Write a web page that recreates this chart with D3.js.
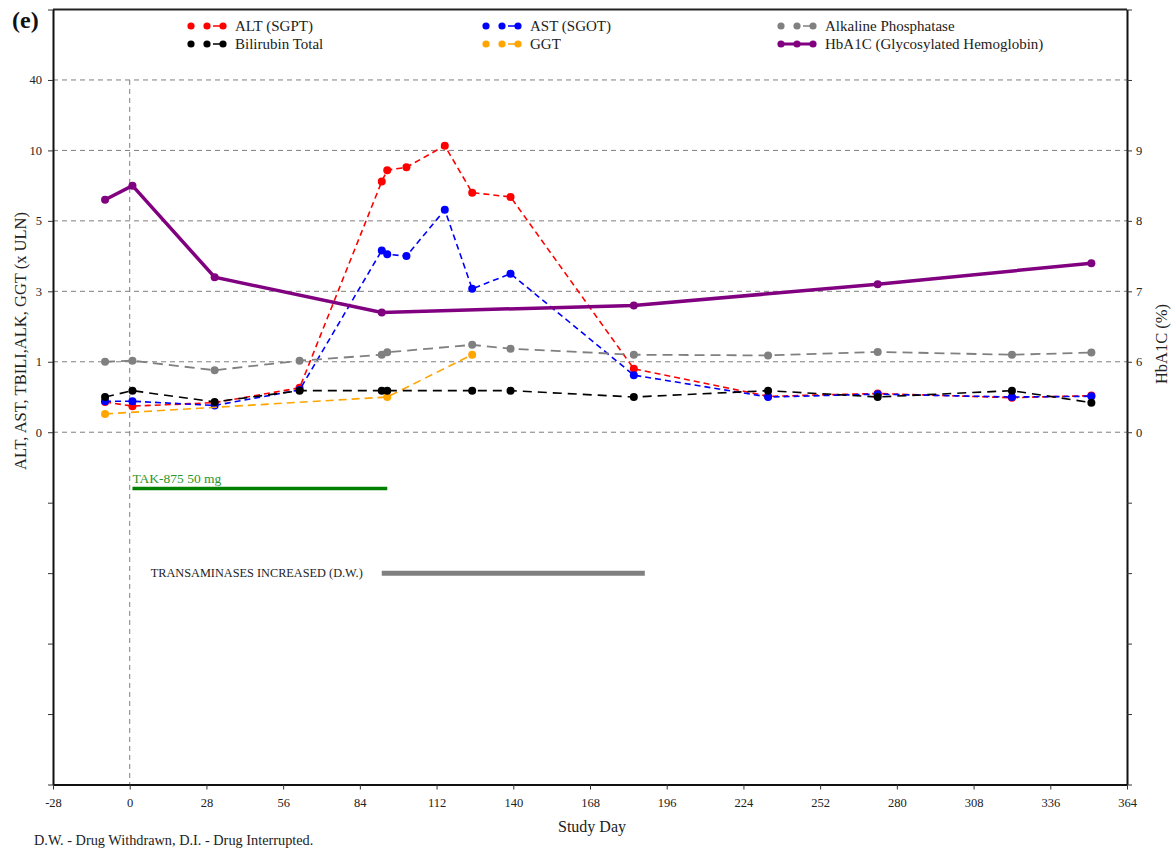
<!DOCTYPE html>
<html><head><meta charset="utf-8">
<script src="https://cdn.jsdelivr.net/npm/d3@7"></script>
<style>
body{margin:0;background:#fff;}
</style></head>
<body><svg id="c" width="1174" height="851" style="font-family:'Liberation Serif','Times New Roman',serif"></svg>
<script>
// ---- data ----
const altDays = [-9, 1, 31, 62, 92, 94, 101, 115, 125, 139, 184, 233, 273, 322, 351];
const altVals = [0.43, 0.37, 0.42, 0.63, 7.8, 8.6, 8.8, 12, 7.0, 6.7, 0.90, 0.51, 0.55, 0.49, 0.52];
const astDays = [-9, 1, 31, 62, 92, 94, 101, 115, 125, 139, 184, 233, 273, 322, 351];
const astVals = [0.44, 0.44, 0.38, 0.60, 4.16, 4.05, 4.0, 5.78, 3.07, 3.5, 0.81, 0.50, 0.54, 0.50, 0.51];
const alkDays = [-9, 1, 31, 62, 92, 94, 125, 139, 184, 233, 273, 322, 351];
const alkVals = [1.0, 1.03, 0.88, 1.03, 1.2, 1.27, 1.48, 1.37, 1.2, 1.18, 1.28, 1.2, 1.26];
const biliDays = [-9, 1, 31, 62, 92, 94, 125, 139, 184, 233, 273, 322, 351];
const biliVals = [0.50, 0.59, 0.43, 0.59, 0.59, 0.59, 0.59, 0.59, 0.50, 0.59, 0.50, 0.59, 0.42];
const ggtDays = [-9, 94, 125];
const ggtVals = [0.26, 0.50, 1.2];
const hbDays = [-9, 1, 31, 92, 184, 273, 351];
const hbVals = [8.3, 8.5, 7.2, 6.7, 6.8, 7.1, 7.4];

const xTicks = [-28, 0, 28, 56, 84, 112, 140, 168, 196, 224, 252, 280, 308, 336, 364];
const leftTickVals = [0, 1, 3, 5, 10, 40];
const rightTickVals = [0, 6, 7, 8, 9];
const rightDomainTop = 10;

const treatLabel = "TAK-875 50 mg", treatStart = 1, treatEnd = 94;
const eventLabel = "TRANSAMINASES INCREASED (D.W.)", eventStart = 92, eventEnd = 188;

const seriesNames = ["ALT (SGPT)", "AST (SGOT)", "Alkaline Phosphatase", "Bilirubin Total", "GGT", "HbA1C (Glycosylated Hemoglobin)"];

// ---- layout ----
const FONT = "'Liberation Serif','Times New Roman',serif";
const L = 53, R = 1127, T = 9.5, B = 784.5;
const svg = d3.select("#c");
const x = d3.scaleLinear().domain([-28, 364]).range([L, R]);
const slot = d3.scaleLinear().domain([0, 11]).range([B, T]);
const slotIdx = [5, 6, 7, 8, 9, 10];
const yL = d3.scaleLinear().domain(leftTickVals).range(slotIdx.map(slot));
const yR = d3.scaleLinear().domain(rightTickVals.concat([rightDomainTop])).range(slotIdx.map(slot));

function txt(sel) { return sel.style("font-family", FONT); }

// grid
const gridC = "#7f7f7f";
svg.append("g").selectAll("line").data(slotIdx).join("line")
  .attr("x1", L).attr("x2", R).attr("y1", d => slot(d)).attr("y2", d => slot(d))
  .attr("stroke", gridC).attr("stroke-width", 1).attr("stroke-dasharray", "5,4");
svg.append("line").attr("x1", x(0)).attr("x2", x(0)).attr("y1", slot(10)).attr("y2", B)
  .attr("stroke", gridC).attr("stroke-width", 1).attr("stroke-dasharray", "5,4");

// frame top
svg.append("line").attr("x1", L).attr("x2", R).attr("y1", T).attr("y2", T).attr("stroke", "#222").attr("stroke-width", 2);

// axes
const leftLab = {}; slotIdx.forEach((s, i) => leftLab[s] = String(leftTickVals[i]));
const rightLab = {}; slotIdx.slice(0, 5).forEach((s, i) => rightLab[s] = String(rightTickVals[i]));
function styleAxis(g) {
  g.attr("font-family", null);
  g.select(".domain").attr("stroke", "#111").attr("stroke-width", 2);
  g.selectAll(".tick line").attr("stroke", "#333");
  g.selectAll(".tick text").style("font-family", FONT).attr("font-size", 12.5).attr("fill", "#222");
}
svg.append("g").attr("transform", `translate(${L},0)`)
  .call(d3.axisLeft(slot).tickValues(d3.range(0, 12)).tickFormat(d => leftLab[d] || "").tickSize(5).tickSizeOuter(0).tickPadding(6))
  .call(styleAxis);
svg.append("g").attr("transform", `translate(${R},0)`)
  .call(d3.axisRight(slot).tickValues(d3.range(0, 12)).tickFormat(d => rightLab[d] || "").tickSize(5).tickSizeOuter(0).tickPadding(4))
  .call(styleAxis);
svg.append("g").attr("transform", `translate(0,${B})`)
  .call(d3.axisBottom(x).tickValues(xTicks).tickFormat(d => String(d)).tickSize(5).tickSizeOuter(0).tickPadding(9))
  .call(styleAxis);

// axis titles
txt(svg.append("text")).attr("transform", `translate(26,341) rotate(-90)`).attr("text-anchor", "middle")
  .attr("font-size", 16.5).attr("fill", "#222").text("ALT, AST, TBILI,ALK, GGT (x ULN)");
txt(svg.append("text")).attr("transform", `translate(1167,344) rotate(-90)`).attr("text-anchor", "middle")
  .attr("font-size", 16.5).attr("fill", "#222").text("HbA1C (%)");
txt(svg.append("text")).attr("x", 592).attr("y", 832).attr("text-anchor", "middle").attr("font-size", 16).attr("fill", "#222").text("Study Day");
txt(svg.append("text")).attr("x", 34).attr("y", 845).attr("font-size", 14.3).attr("fill", "#222").text("D.W. - Drug Withdrawn, D.I. - Drug Interrupted.");
txt(svg.append("text")).attr("x", 12).attr("y", 28).attr("font-size", 24).attr("font-weight", "bold").attr("fill", "#111").text("(e)");

// series
const series = [
  {name: seriesNames[0], days: altDays, vals: altVals, color: "#ff0000", dash: "6,4", w: 1.6, r: 4, y: yL},
  {name: seriesNames[1], days: astDays, vals: astVals, color: "#0000ff", dash: "6,4", w: 1.6, r: 4, y: yL},
  {name: seriesNames[2], days: alkDays, vals: alkVals, color: "#808080", dash: "10,6", w: 1.8, r: 4, y: yL},
  {name: seriesNames[3], days: biliDays, vals: biliVals, color: "#000000", dash: "9,6", w: 1.6, r: 4, y: yL},
  {name: seriesNames[4], days: ggtDays, vals: ggtVals, color: "#ffa500", dash: "8,5", w: 1.6, r: 4, y: yL},
  {name: seriesNames[5], days: hbDays, vals: hbVals, color: "#800080", dash: null, w: 3.5, r: 4, y: yR},
];
const drawOrder = [0, 1, 2, 4, 3, 5];
drawOrder.forEach(i => {
  const s = series[i];
  const pts = s.days.map((d, k) => [x(d), s.y(s.vals[k])]);
  svg.append("path").attr("d", d3.line()(pts)).attr("fill", "none").attr("stroke", s.color)
    .attr("stroke-width", s.w).attr("stroke-dasharray", s.dash);
  svg.append("g").selectAll("circle").data(pts).join("circle")
    .attr("cx", p => p[0]).attr("cy", p => p[1]).attr("r", s.r).attr("fill", s.color);
});

// treatment / event bars
const yTreat = slot(4.2), yEvent = slot(3);
svg.append("line").attr("x1", x(treatStart)).attr("x2", x(treatEnd)).attr("y1", yTreat).attr("y2", yTreat)
  .attr("stroke", "#008000").attr("stroke-width", 3.5);
txt(svg.append("text")).attr("x", x(treatStart)).attr("y", yTreat - 6).attr("font-size", 13.5).attr("fill", "#2a962a").text(treatLabel);
svg.append("line").attr("x1", x(eventStart)).attr("x2", x(eventEnd)).attr("y1", yEvent).attr("y2", yEvent)
  .attr("stroke", "#808080").attr("stroke-width", 5);
txt(svg.append("text")).attr("x", x(eventStart) - 19).attr("y", yEvent + 4).attr("text-anchor", "end")
  .attr("font-size", 12.3).attr("fill", "#222").text(eventLabel);

// legend
const legPos = [[191, 26], [486, 26], [781, 26], [191, 44], [486, 44], [781, 44]];
series.forEach((s, i) => {
  const [lx, ly] = legPos[i];
  const g = svg.append("g");
  g.append("line").attr("x1", lx + 16).attr("x2", lx + 32).attr("y1", ly).attr("y2", ly)
    .attr("stroke", s.color).attr("stroke-width", s.dash ? 1.6 : 3)
    .attr("stroke-dasharray", s.dash ? "0,6,10" : null);
  if (!s.dash) g.append("line").attr("x1", lx).attr("x2", lx + 16).attr("y1", ly).attr("y2", ly).attr("stroke", s.color).attr("stroke-width", 3);
  [0, 16, 32].forEach(o => g.append("circle").attr("cx", lx + o).attr("cy", ly).attr("r", 3.6).attr("fill", s.color));
  txt(g.append("text")).attr("x", lx + 44).attr("y", ly + 5).attr("font-size", 15).attr("fill", "#222").text(s.name);
});
</script></body></html>
